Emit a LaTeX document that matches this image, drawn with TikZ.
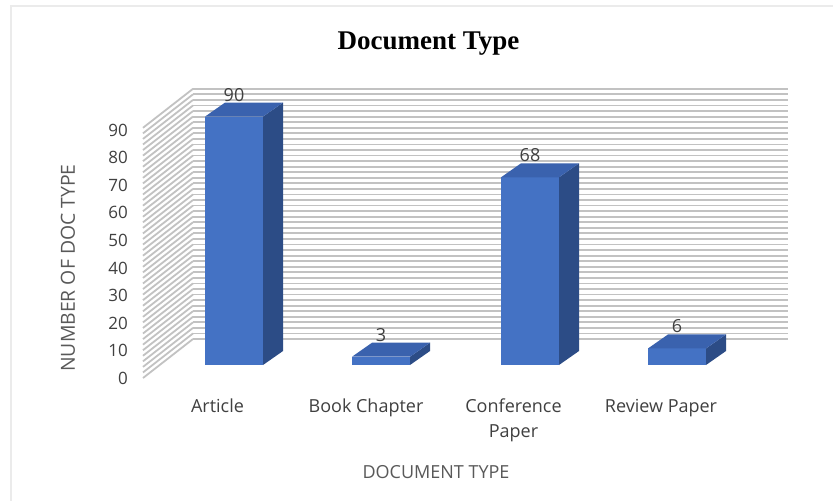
\documentclass[tikz,border=0pt]{standalone}
\usepackage{fontspec}
\setmainfont{Liberation Serif}
\newfontfamily\osans{Open Sans}
\definecolor{barfront}{HTML}{4472C4}
\definecolor{barside}{HTML}{2C4C86}
\definecolor{bartop}{HTML}{3A62AE}
\definecolor{txtdark}{HTML}{404040}
\definecolor{txtgray}{HTML}{595959}
\newcommand\mybar[4]{%
  \pgfmathsetmacro\yt{365-2.76*#2}
  \fill[barfront] (#1,365) rectangle (#1+58,\yt);
  \fill[barside] (#1+58,365) -- (#1+78,351) -- (#1+78,\yt-14) -- (#1+58,\yt) -- cycle;
  \fill[bartop] (#1,\yt) -- (#1+20,\yt-14) -- (#1+78,\yt-14) -- (#1+58,\yt) -- cycle;
  \node[vlab] (#3) at (#1+29,\yt-15.5) {#4};
}
\tikzset{
  gridline/.style={black!24, line width=1.8pt},
  vlab/.style={font=\osans\fontsize{18}{20}\selectfont, text=txtdark, anchor=base, inner sep=0pt},
  ticklab/.style={font=\osans\fontsize{17}{20}\selectfont, text=txtdark, anchor=base east, inner sep=0pt},
  catlab/.style={font=\osans\fontsize{18}{25}\selectfont, text=txtdark, anchor=base, inner sep=0pt, align=center},
  axtitle/.style={font=\osans\fontsize{18}{20}\selectfont, text=txtgray, inner sep=0pt},
}
\begin{document}
\begin{tikzpicture}[x=1pt,y=-1pt]
\useasboundingbox (0,0) rectangle (833,501);
\fill[white] (0,0) rectangle (833,501);
\draw[black!8, line width=1.5pt] (11,501) -- (11,6) -- (833,6);
% grid walls
\foreach \v in {0,2,...,90} {
  \pgfmathsetmacro\yf{378-2.78*\v}
  \draw[gridline] (143,\yf) -- (193,\yf-39);
  \draw[gridline] (193,\yf-39) -- (788,\yf-39);
}
% bars
\mybar{205}{90}{v1}{90}
\mybar{352}{3}{v2}{3}
\mybar{501}{68}{v3}{68}
\mybar{648}{6}{v4}{6}
% ticks
\foreach \v in {0,10,...,90} {
  \node[ticklab] (t\v) at (128,378-2.76*\v+6.5) {\v};
}
% category labels
\node[catlab] (c1) at (217.5,412) {Article};
\node[catlab] (c2) at (366,412) {Book Chapter};
\node[catlab] (c3) at (513.5,437) {Conference\\Paper};
\node[catlab] (c4) at (661,412) {Review Paper};
% axis titles
\node[axtitle, anchor=base] (xt) at (436,478) {DOCUMENT TYPE};
\node[axtitle, rotate=90, font=\osans\fontsize{19.4}{22}\selectfont] (yt) at (68,268) {NUMBER OF DOC TYPE};
% title
\node[anchor=base, inner sep=0pt, font=\fontsize{27}{32}\selectfont\bfseries] (title) at (428.5,49) {Document Type};
\end{tikzpicture}
\end{document}
